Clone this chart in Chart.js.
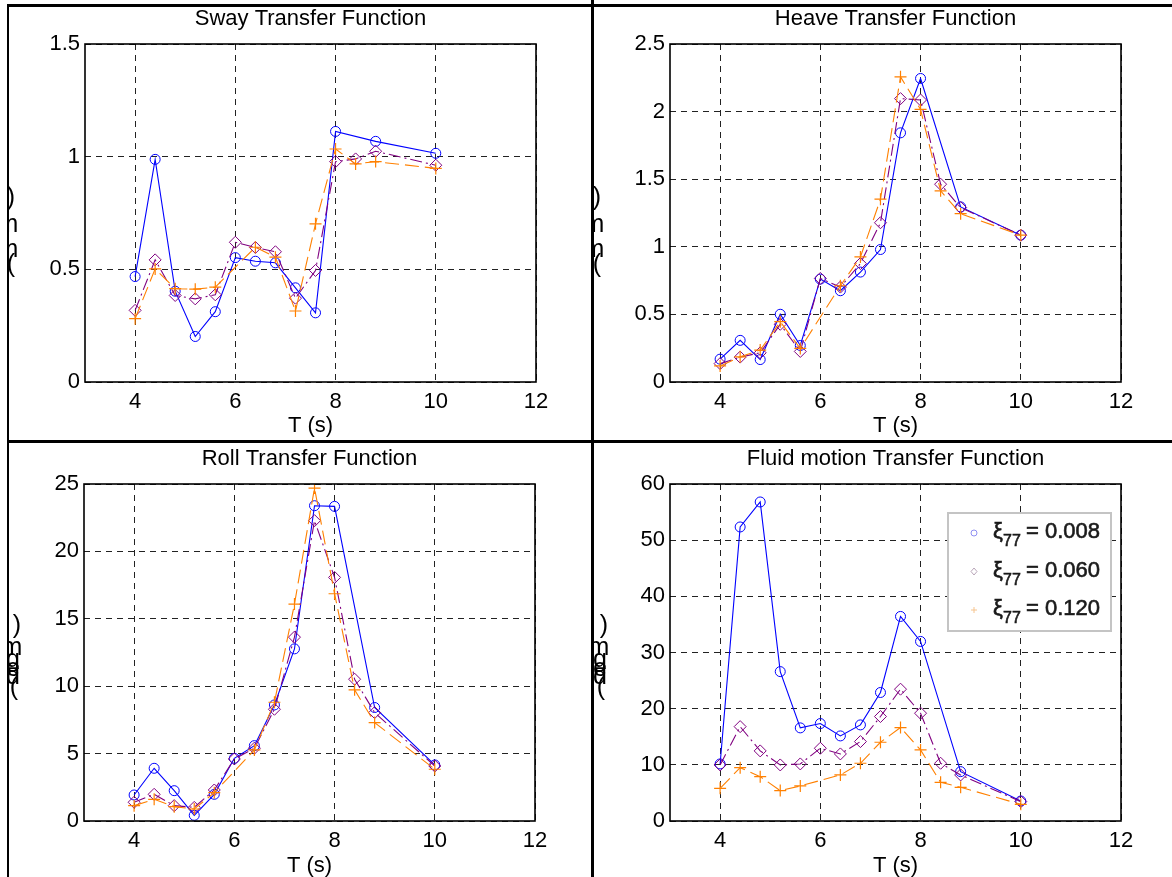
<!DOCTYPE html>
<html>
<head>
<meta charset="utf-8">
<script src="https://cdn.jsdelivr.net/npm/chart.js@4.4.0/dist/chart.umd.min.js"></script>
<style>
  html, body { margin: 0; padding: 0; background: #fff; }
  #fig { position: relative; width: 1172px; height: 877px; overflow: hidden; background: #fff; }
  .panel { position: absolute; }
  .panel canvas { display: block; }
  .rule { position: absolute; background: #000; pointer-events: none; }
</style>
</head>
<body>
<div id="fig">
  <div class="panel" style="left:0;top:0;"><canvas id="sway" width="591" height="441"></canvas></div>
  <div class="panel" style="left:591px;top:0;"><canvas id="heave" width="581" height="441"></canvas></div>
  <div class="panel" style="left:0;top:441px;"><canvas id="roll" width="591" height="436"></canvas></div>
  <div class="panel" style="left:591px;top:441px;"><canvas id="fluid" width="581" height="436"></canvas></div>

  <div class="rule" style="left:7px;top:4px;width:1165px;height:3px;"></div>
  <div class="rule" style="left:7px;top:4px;width:2px;height:873px;"></div>
  <div class="rule" style="left:591px;top:0;width:3px;height:877px;"></div>
  <div class="rule" style="left:7px;top:440px;width:1165px;height:3px;"></div>
</div>

<script>
// Wave periods (s)
const periods = [4, 4.4, 4.8, 5.2, 5.6, 6, 6.4, 6.8, 7.2, 7.6, 8, 8.4, 8.8, 10];

// Damping ratios of the three series
const dampingLabels = ['0.008', '0.060', '0.120'];

// Shared x ticks
const periodTicks = [4, 6, 8, 10, 12];

// Sway (m/m)
const swayLow  = [0.468, 0.988, 0.403, 0.202, 0.312, 0.552, 0.536, 0.529, 0.418, 0.307, 1.112, null, 1.068, 1.015];
const swayMid  = [0.318, 0.542, 0.384, 0.369, 0.387, 0.620, 0.597, 0.578, 0.372, 0.495, 0.978, 0.990, 1.024, 0.962];
const swayHigh = [0.281, 0.502, 0.414, 0.412, 0.421, null, 0.598, 0.554, 0.315, 0.702, 1.034, 0.968, 0.978, 0.948];
const swayTicks = [0, 0.5, 1, 1.5];

// Heave (m/m)
const heaveLow  = [0.169, 0.308, 0.166, 0.501, 0.270, 0.761, 0.675, 0.813, 0.980, 1.843, 2.245, null, 1.295, 1.086];
const heaveMid  = [0.136, 0.184, 0.216, 0.427, 0.226, 0.766, 0.702, 0.876, 1.178, 2.096, 2.086, 1.463, 1.290, 1.086];
const heaveHigh = [0.119, 0.186, 0.236, 0.446, 0.248, null, 0.712, 0.925, 1.352, 2.257, 2.016, 1.414, 1.245, 1.086];
const heaveTicks = [0, 0.5, 1, 1.5, 2, 2.5];

// Roll (deg/m)
const rollLow  = [1.93, 3.91, 2.25, 0.42, 1.98, 4.65, 5.59, 8.61, 12.77, 23.39, 23.34, null, 8.42, 4.16];
const rollMid  = [1.39, 1.98, 1.14, 1.01, 2.30, 4.60, 5.40, 8.29, 13.64, 22.28, 18.07, 10.52, 8.04, 4.08];
const rollHigh = [1.14, 1.61, 1.06, 0.89, 2.10, null, 5.27, 8.81, 16.09, 24.70, 16.86, 9.73, 7.30, 3.84];
const rollTicks = [0, 5, 10, 15, 20, 25];

// Fluid motion (deg/m)
const fluidLow  = [10.16, 52.35, 56.8, 26.6, 16.58, 17.35, 15.15, 17.11, 22.88, 36.42, 31.97, null, 8.79, 3.56];
const fluidMid  = [9.98, 16.8, 12.48, 9.98, 10.16, 12.95, 11.94, 14.14, 18.6, 23.47, 19.19, 10.28, 8.2, 3.45];
const fluidHigh = [5.82, 9.5, 7.9, 5.41, 6.24, null, 8.2, 10.28, 14.02, 16.64, 12.66, 6.89, 6.0, 2.97];
const fluidTicks = [0, 10, 20, 30, 40, 50, 60];

const FONT = "'Liberation Sans', Arial, Helvetica, sans-serif";
const BLUE = '#0000ff', PURPLE = '#800080', ORANGE = '#ff8000';

function toPoints(values) {
  return periods.map((t, i) => ({ x: t, y: values[i] })).filter(p => p.y !== null);
}

function makeDatasets(low, mid, high) {
  return [
    { label: dampingLabels[0], data: toPoints(low), borderColor: BLUE, borderWidth: 1.1,
      pointStyle: 'circle', pointRadius: 5, pointBorderColor: BLUE, pointBorderWidth: 1,
      pointBackgroundColor: 'rgba(0,0,0,0)', order: 2, tension: 0, fill: false },
    { label: dampingLabels[1], data: toPoints(mid), borderColor: PURPLE, borderWidth: 1.1,
      borderDash: [12, 4, 2, 4], pointStyle: 'rectRot', pointRadius: 6, pointBorderColor: PURPLE,
      pointBorderWidth: 1, pointBackgroundColor: 'rgba(0,0,0,0)', order: 1, tension: 0, fill: false },
    { label: dampingLabels[2], data: toPoints(high), borderColor: ORANGE, borderWidth: 1.1,
      borderDash: [14, 6], pointStyle: 'cross', pointRadius: 6, pointBorderColor: ORANGE,
      pointBorderWidth: 1.2, pointBackgroundColor: 'rgba(0,0,0,0)', order: 0, tension: 0, fill: false }
  ];
}

// Draws the plot box, title, stacked y-label glyphs and (optionally) the legend
function decorPlugin(spec) {
  return {
    id: 'decor',
    afterDatasetsDraw(chart) {
      const { ctx, chartArea: a } = chart;
      ctx.save();
      ctx.strokeStyle = '#000';
      ctx.lineWidth = 1.6;
      ctx.setLineDash([]);
      ctx.strokeRect(a.left, a.top, a.right - a.left, a.bottom - a.top);
      ctx.restore();
    },
    afterDraw(chart) {
      const { ctx, chartArea: a } = chart;
      ctx.save();
      ctx.fillStyle = '#000';
      ctx.font = '22px ' + FONT;
      ctx.textAlign = 'center';
      ctx.textBaseline = 'alphabetic';
      ctx.fillText(spec.title, (a.left + a.right) / 2, spec.titleY);

      // stacked unit glyphs of the y label
      ctx.save();
      ctx.beginPath();
      ctx.rect(spec.clipX, 0, 60, chart.height);
      ctx.clip();
      ctx.font = '25px ' + FONT;
      ctx.textBaseline = 'middle';
      spec.glyphs.forEach(g => ctx.fillText(g[0], g[1], g[2]));
      ctx.restore();

      if (spec.legend) drawLegend(ctx, spec.legend);
      ctx.restore();
    }
  };
}

function drawLegend(ctx, L) {
  ctx.save();
  ctx.fillStyle = '#fff';
  ctx.fillRect(L.x, L.y, L.w, L.h);
  ctx.strokeStyle = '#c4c4c4';
  ctx.lineWidth = 2;
  ctx.strokeRect(L.x, L.y, L.w, L.h);
  const markColors = ['#8f8ff2', '#b9a6b9', '#f6c48e'];
  const styles = ['circle', 'rectRot', 'cross'];
  dampingLabels.forEach((lab, i) => {
    const cy = L.y + L.rowTop + i * L.rowGap;
    const mx = L.x + L.markX;
    ctx.strokeStyle = markColors[i];
    ctx.lineWidth = 1;
    ctx.beginPath();
    if (styles[i] === 'circle') ctx.arc(mx, cy, 3, 0, Math.PI * 2);
    else if (styles[i] === 'rectRot') { ctx.moveTo(mx, cy - 3.5); ctx.lineTo(mx + 3, cy); ctx.lineTo(mx, cy + 3.5); ctx.lineTo(mx - 3, cy); ctx.closePath(); }
    else { ctx.moveTo(mx - 3, cy); ctx.lineTo(mx + 3, cy); ctx.moveTo(mx, cy - 3); ctx.lineTo(mx, cy + 3); }
    ctx.stroke();

    const base = cy + 5;
    ctx.fillStyle = '#1a1a1a';
    ctx.strokeStyle = '#1a1a1a';
    ctx.lineWidth = 0.6;
    ctx.textAlign = 'left';
    ctx.textBaseline = 'alphabetic';
    const put = (txt, x, y) => { ctx.fillText(txt, x, y); ctx.strokeText(txt, x, y); };
    ctx.font = '22px ' + FONT;
    put('\u03BE', L.x + L.textX, base);
    ctx.font = '16px ' + FONT;
    put('77', L.x + L.textX + 10, base + 8);
    ctx.font = '22px ' + FONT;
    put('= ' + lab, L.x + L.textX + 33, base);
  });
  ctx.restore();
}

function buildPanel(id, spec) {
  const canvas = document.getElementById(id);
  const W = canvas.width, H = canvas.height;
  const area = spec.area;
  const tickFont = { family: FONT, size: 22 };
  return new Chart(canvas, {
    type: 'line',
    data: { datasets: makeDatasets(spec.low, spec.mid, spec.high) },
    options: {
      responsive: false,
      animation: false,
      events: [],
      layout: { padding: { left: 0, top: area.top, right: W - area.right, bottom: 0 } },
      plugins: { legend: { display: false }, tooltip: { enabled: false }, title: { display: false } },
      scales: {
        x: {
          type: 'linear', min: 3, max: 12,
          afterBuildTicks: s => { s.ticks = periodTicks.map(v => ({ value: v })); },
          afterFit: s => { s.height = H - area.bottom; },
          grid: { color: '#222', lineWidth: 1, drawTicks: false },
          border: { display: false, dash: [6, 5] },
          ticks: { font: tickFont, color: '#000', padding: 7, maxRotation: 0, autoSkip: false,
                   callback: v => String(v) },
          title: { display: true, text: 'T (s)', color: '#000', font: { family: FONT, size: 22, lineHeight: 1 },
                   padding: { top: 0, bottom: spec.xTitlePad } }
        },
        y: {
          type: 'linear', min: 0, max: spec.yTicks[spec.yTicks.length - 1],
          afterBuildTicks: s => { s.ticks = spec.yTicks.map(v => ({ value: v })); },
          afterFit: s => { s.width = area.left; },
          grid: { color: '#222', lineWidth: 1, drawTicks: false },
          border: { display: false, dash: [6, 5] },
          ticks: { font: tickFont, color: '#000', padding: 5, callback: v => String(v) }
        }
      }
    },
    plugins: [decorPlugin(spec)]
  });
}

const unitGlyphsTop = (dx) => [[')', 11 + dx, 198], ['m', 8 + dx, 225], ['m', 8 + dx, 250], ['(', 11 + dx, 265]];
const unitGlyphsBottom = (dx) => [[')', 17 + dx, 185], ['m', 12 + dx, 207], ['g', 13 + dx, 219],
                                  ['e', 13 + dx, 228], ['d', 13 + dx, 236], ['(', 14 + dx, 247]];

buildPanel('sway', {
  title: 'Sway Transfer Function', titleY: 25,
  area: { left: 85, right: 536, top: 44, bottom: 382 },
  low: swayLow, mid: swayMid, high: swayHigh, yTicks: swayTicks,
  xTitlePad: 4, glyphs: unitGlyphsTop(0), clipX: 8
});
buildPanel('heave', {
  title: 'Heave Transfer Function', titleY: 25,
  area: { left: 79, right: 530, top: 44, bottom: 382 },
  low: heaveLow, mid: heaveMid, high: heaveHigh, yTicks: heaveTicks,
  xTitlePad: 4, glyphs: unitGlyphsTop(-5), clipX: 3
});
buildPanel('roll', {
  title: 'Roll Transfer Function', titleY: 24,
  area: { left: 84, right: 535, top: 43, bottom: 380 },
  low: rollLow, mid: rollMid, high: rollHigh, yTicks: rollTicks,
  xTitlePad: 0, glyphs: unitGlyphsBottom(0), clipX: 8
});
buildPanel('fluid', {
  title: 'Fluid motion Transfer Function', titleY: 24,
  area: { left: 79, right: 530, top: 43, bottom: 380 },
  low: fluidLow, mid: fluidMid, high: fluidHigh, yTicks: fluidTicks,
  xTitlePad: 0, glyphs: unitGlyphsBottom(-4), clipX: 3,
  legend: { x: 357, y: 72, w: 163, h: 118, markX: 26, textX: 45, rowTop: 20, rowGap: 38.5 }
});
</script>
</body>
</html>
